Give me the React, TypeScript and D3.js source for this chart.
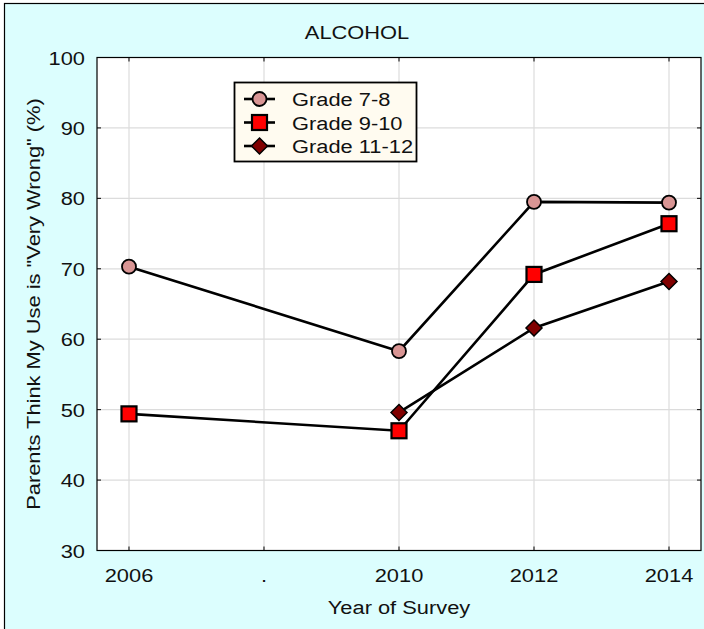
import React from "react";
import * as d3 from "d3";

const categories = ["2006", ".", "2010", "2012", "2014"];
const grade78 = [70.3, null, 58.3, 79.5, 79.4];
const grade910 = [49.4, null, 47.0, 69.2, 76.4];
const grade1112 = [null, null, 49.6, 61.6, 68.2];
const yTicks = [30, 40, 50, 60, 70, 80, 90, 100];
const seriesNames = ["Grade 7-8", "Grade 9-10", "Grade 11-12"];

const W = 704;
const H = 629;
const plot = { left: 97, right: 701, top: 57.5, bottom: 550.5 };
const FONT = "'Liberation Sans', Arial, sans-serif";
const FS = 19;
const STRETCH = 1.15;

function T({
  x,
  y,
  rotate = 0,
  anchor = "start",
  size = FS,
  children,
}: {
  x: number;
  y: number;
  rotate?: number;
  anchor?: string;
  size?: number;
  children: React.ReactNode;
}) {
  return (
    <text
      transform={`translate(${x},${y}) rotate(${rotate}) scale(${STRETCH},1)`}
      textAnchor={anchor}
      fontSize={size}
      fill="#111"
    >
      {children}
    </text>
  );
}

export default function App() {
  const x = d3
    .scalePoint<string>()
    .domain(categories)
    .range([plot.left, plot.right])
    .padding(0.237);
  const y = d3.scaleLinear().domain([30, 100]).range([plot.bottom, plot.top]);

  const series = [
    { name: seriesNames[0], values: grade78, shape: "circle", fill: "#d99594" },
    { name: seriesNames[1], values: grade910, shape: "square", fill: "#ff0000" },
    { name: seriesNames[2], values: grade1112, shape: "diamond", fill: "#800000" },
  ];

  const line = d3
    .line<{ c: string; v: number | null }>()
    .x((d) => x(d.c) as number)
    .y((d) => y(d.v as number));

  const marker = (shape: string, fill: string, cx: number, cy: number, key: string) => {
    if (shape === "circle")
      return <circle key={key} cx={cx} cy={cy} r={7} fill={fill} stroke="#000" strokeWidth={1.8} />;
    if (shape === "square")
      return (
        <rect key={key} x={cx - 7.5} y={cy - 7.5} width={15} height={15} fill={fill} stroke="#000" strokeWidth={2.2} />
      );
    const s = 8;
    return (
      <path
        key={key}
        d={`M${cx},${cy - s}L${cx + s},${cy}L${cx},${cy + s}L${cx - s},${cy}Z`}
        fill={fill}
        stroke="#000"
        strokeWidth={1.5}
      />
    );
  };

  const legend = { x: 234.5, y: 82.5, w: 182, h: 79 };

  return (
    <svg
      width={W}
      height={H}
      style={{ position: "absolute", left: 0, top: 0, display: "block" }}
      fontFamily={FONT}
    >
      <rect x={0} y={0} width={W} height={H} fill="#ffffff" />
      <rect x={4.5} y={3.5} width={W + 20} height={H + 20} fill="#dcfefe" stroke="#000" strokeWidth={1.2} />
      <rect
        x={plot.left}
        y={plot.top}
        width={plot.right - plot.left}
        height={plot.bottom - plot.top}
        fill="#ffffff"
      />
      {/* grid */}
      {yTicks.slice(1, -1).map((t) => (
        <line key={"gy" + t} x1={plot.left} x2={plot.right} y1={y(t)} y2={y(t)} stroke="#dcdcdc" strokeWidth={1.2} />
      ))}
      {categories.map((c) => (
        <line
          key={"gx" + c}
          x1={x(c)}
          x2={x(c)}
          y1={plot.top}
          y2={plot.bottom}
          stroke="#dcdcdc"
          strokeWidth={1.2}
        />
      ))}
      {/* inside ticks */}
      {yTicks.map((t) => (
        <g key={"ty" + t}>
          <line x1={plot.left} x2={plot.left + 4} y1={y(t)} y2={y(t)} stroke="#000" strokeWidth={1} />
          <line x1={plot.right - 4} x2={plot.right} y1={y(t)} y2={y(t)} stroke="#000" strokeWidth={1} />
        </g>
      ))}
      {categories.map((c) => (
        <g key={"tx" + c}>
          <line x1={x(c)} x2={x(c)} y1={plot.bottom} y2={plot.bottom - 4} stroke="#000" strokeWidth={1} />
          <line x1={x(c)} x2={x(c)} y1={plot.top} y2={plot.top + 4} stroke="#000" strokeWidth={1} />
        </g>
      ))}
      <rect
        x={plot.left}
        y={plot.top}
        width={plot.right - plot.left}
        height={plot.bottom - plot.top}
        fill="none"
        stroke="#000"
        strokeWidth={1.2}
      />
      {/* tick labels */}
      {yTicks.map((t) => (
        <T key={"ly" + t} x={85} y={y(t) + 7} anchor="end">
          {t}
        </T>
      ))}
      {categories.map((c) => (
        <T key={"lx" + c} x={x(c) as number} y={582} anchor="middle">
          {c}
        </T>
      ))}
      <T x={399} y={614} anchor="middle">
        Year of Survey
      </T>
      <T x={40} y={(plot.top + plot.bottom) / 2} rotate={-90} anchor="middle">
        Parents Think My Use is "Very Wrong" (%)
      </T>
      <T x={357} y={39} anchor="middle">
        ALCOHOL
      </T>
      {/* series */}
      {series.map((s) => {
        const pts = categories
          .map((c, i) => ({ c, v: s.values[i] }))
          .filter((d) => d.v != null);
        return (
          <path key={"l" + s.name} d={line(pts) || ""} fill="none" stroke="#000" strokeWidth={2.6} />
        );
      })}
      {series.map((s) =>
        categories.map((c, i) =>
          s.values[i] == null ? null : marker(s.shape, s.fill, x(c) as number, y(s.values[i] as number), s.name + c)
        )
      )}
      {/* legend */}
      <rect x={legend.x} y={legend.y} width={legend.w} height={legend.h} fill="#fffbf0" stroke="#000" strokeWidth={1.8} />
      {series.map((s, i) => {
        const cy = legend.y + 16.5 + i * 23.5;
        return (
          <g key={"lg" + s.name}>
            <line x1={244} x2={275} y1={cy} y2={cy} stroke="#000" strokeWidth={2.6} />
            {marker(s.shape, s.fill, 259.5, cy, "lgm" + i)}
            <T x={292} y={cy + 7}>
              {s.name}
            </T>
          </g>
        );
      })}
    </svg>
  );
}
